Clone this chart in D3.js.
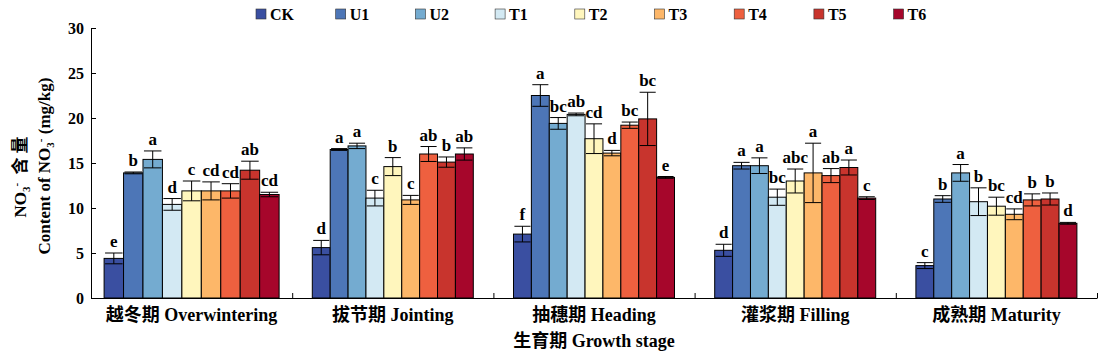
<!DOCTYPE html>
<html>
<head>
<meta charset="utf-8">
<script src="https://cdnjs.cloudflare.com/ajax/libs/d3/7.8.5/d3.min.js"></script>
<style>
  body { margin: 0; background: #fff; }
  svg text { font-family: "Liberation Serif", "Noto Sans CJK SC", serif; font-weight: bold; fill: #000; }
  .axis path, .axis line { stroke: #000; stroke-width: 1; }
</style>
</head>
<body>
<svg id="chart" width="1102" height="358"></svg>
<script>
// growth stages and treatments
var stages = ["越冬期 Overwintering", "拔节期 Jointing", "抽穗期 Heading", "灌浆期 Filling", "成熟期 Maturity"];
var treatments = ["CK", "U1", "U2", "T1", "T2", "T3", "T4", "T5", "T6"];
var yTicks = [0, 5, 10, 15, 20, 25, 30];

// NO3- content (mg/kg), one array per treatment, in stage order
var CK = [4.4, 5.6, 7.1, 5.3, 3.6];
var U1 = [13.9, 16.5, 22.5, 14.7, 11.0];
var U2 = [15.4, 16.9, 19.4, 14.7, 13.9];
var T1 = [10.4, 11.1, 20.4, 11.2, 10.7];
var T2 = [11.9, 14.6, 17.7, 13.0, 10.2];
var T3 = [11.9, 10.9, 16.1, 13.9, 9.3];
var T4 = [11.9, 16.0, 19.2, 13.6, 10.9];
var T5 = [14.2, 15.1, 19.9, 14.5, 11.0];
var T6 = [11.5, 16.0, 13.4, 11.1, 8.3];

// standard errors
var CK_err = [0.6, 0.8, 0.87, 0.67, 0.33];
var U1_err = [0.1, 0.1, 1.2, 0.37, 0.37];
var U2_err = [0.94, 0.3, 0.65, 0.87, 0.93];
var T1_err = [0.65, 0.87, 0.15, 0.9, 1.54];
var T2_err = [1.1, 1.0, 1.65, 1.33, 1.0];
var T3_err = [1.0, 0.5, 0.3, 3.3, 0.6];
var T4_err = [0.8, 0.83, 0.35, 0.78, 0.67];
var T5_err = [1.0, 0.57, 2.96, 0.83, 0.67];
var T6_err = [0.25, 0.68, 0.1, 0.15, 0.1];

// significance letters
var CK_sig = ["e", "d", "f", "d", "c"];
var U1_sig = ["b", "a", "a", "a", "b"];
var U2_sig = ["a", "a", "bc", "a", "a"];
var T1_sig = ["d", "c", "ab", "bc", "b"];
var T2_sig = ["c", "b", "cd", "abc", "bc"];
var T3_sig = ["cd", "c", "d", "a", "cd"];
var T4_sig = ["cd", "ab", "bc", "ab", "b"];
var T5_sig = ["ab", "b", "bc", "a", "b"];
var T6_sig = ["cd", "ab", "e", "c", "d"];

var palette = ["#3a4fa1", "#4d76b7", "#74abd0", "#d3e9f3", "#fff6bd", "#fdb769", "#ee603f", "#c8342d", "#a6062b"];

var means = [CK, U1, U2, T1, T2, T3, T4, T5, T6];
var errs = [CK_err, U1_err, U2_err, T1_err, T2_err, T3_err, T4_err, T5_err, T6_err];
var sigs = [CK_sig, U1_sig, U2_sig, T1_sig, T2_sig, T3_sig, T4_sig, T5_sig, T6_sig];

plot_bars();

function plot_bars() {
  var svg = d3.select('#chart');

  var _margin = {top: 28, right: 5, bottom: 60, left: 91};
  var _width  = 1097 - _margin.left;
  var _height = 298 - _margin.top;
  var canvas = svg.append("g").attr("transform", `translate(${_margin.left}, ${_margin.top})`);

  var _data = [];
  stages.forEach(function(s, i) {
    treatments.forEach(function(t, j) {
      _data.push({stage: s, si: i, treat: t, ti: j, mean: means[j][i], err: errs[j][i], sig: sigs[j][i]});
    });
  });

  var x0 = d3.scaleBand().domain(stages).range([0, _width]).padding(0);
  // the first group is drawn a little wider than the others in the original
  var groupW = function(i) { return i === 0 ? 175 : 161; };
  var x1 = function(i) {
    var w = groupW(i);
    return d3.scaleBand().domain(treatments).range([(x0.bandwidth() - w) / 2, (x0.bandwidth() + w) / 2]);
  };

  var y = d3.scaleLinear().domain([0, 30]).range([_height, 0]);

  // y axis, inward ticks
  var ay = d3.axisLeft(y).tickValues(yTicks).tickSize(-5).tickSizeOuter(0).tickPadding(7);
  var gy = canvas.append("g").attr("class", "axis axis--y").call(ay);
  gy.attr("font-family", null);
  gy.selectAll("text").style("font-size", "16px").attr("dy", "0.35em");

  // x axis line with upward ticks at group boundaries
  var xb = d3.scaleLinear().domain([0, stages.length]).range([0, _width]);
  var axb = d3.axisBottom(xb).tickValues(d3.range(1, stages.length + 1)).tickSize(-5).tickSizeOuter(0).tickFormat("");
  canvas.append("g")
    .attr("class", "axis axis--x")
    .attr("transform", `translate(0, ${_height})`)
    .call(axb);

  // category labels
  var ax = d3.axisBottom(x0).tickSize(0).tickPadding(10);
  var gx = canvas.append("g")
    .attr("class", "axis axis--cat")
    .attr("transform", `translate(0, ${_height})`)
    .call(ax);
  gx.attr("font-family", null);
  gx.select(".domain").remove();
  gx.selectAll("text").style("font-size", "18px");

  // bars
  var groups = canvas.selectAll("g.stage")
    .data(stages)
    .enter().append("g")
      .attr("class", "stage")
      .attr("transform", (d) => `translate(${x0(d)}, 0)`);

  groups.each(function(s, i) {
    var g = d3.select(this);
    var sx = x1(i);
    var bw = sx.bandwidth();
    var rows = _data.filter((d) => d.si === i);

    g.selectAll("rect")
      .data(rows)
      .enter().append("rect")
        .attr("x", (d) => sx(d.treat))
        .attr("y", (d) => y(d.mean))
        .attr("width", bw)
        .attr("height", (d) => _height - y(d.mean))
        .attr("fill", (d) => palette[d.ti])
        .attr("stroke", "#000")
        .attr("stroke-width", 1);

    var eb = g.selectAll("g.err")
      .data(rows)
      .enter().append("g")
        .attr("class", "err")
        .attr("transform", (d) => `translate(${sx(d.treat) + bw / 2}, 0)`);

    eb.append("line")
      .attr("x1", 0).attr("x2", 0)
      .attr("y1", (d) => y(d.mean - d.err))
      .attr("y2", (d) => y(d.mean + d.err))
      .attr("stroke", "#000");
    eb.append("line")
      .attr("x1", -bw * 0.45).attr("x2", bw * 0.45)
      .attr("y1", (d) => y(d.mean + d.err)).attr("y2", (d) => y(d.mean + d.err))
      .attr("stroke", "#000");
    eb.append("line")
      .attr("x1", -bw * 0.45).attr("x2", bw * 0.45)
      .attr("y1", (d) => y(d.mean - d.err)).attr("y2", (d) => y(d.mean - d.err))
      .attr("stroke", "#000");

    eb.append("text")
      .attr("text-anchor", "middle")
      .attr("y", (d) => y(d.mean + d.err) - 6)
      .style("font-size", "17px")
      .text((d) => d.sig);
  });

  // x title
  svg.append("text")
    .attr("text-anchor", "middle")
    .attr("x", _margin.left + _width / 2)
    .attr("y", 347)
    .style("font-size", "18px")
    .text("生育期 Growth stage");

  // y title, two lines
  var yl1 = svg.append("text")
    .attr("text-anchor", "middle")
    .attr("transform", "translate(26, 175) rotate(-90)")
    .style("font-size", "17px");
  yl1.append("tspan").text("NO");
  yl1.append("tspan").attr("dy", 4).style("font-size", "11px").text("3");
  yl1.append("tspan").attr("dy", -10).style("font-size", "11px").text("-");
  yl1.append("tspan").attr("dy", 6).attr("letter-spacing", "4px").text(" 含量");

  var yl2 = svg.append("text")
    .attr("text-anchor", "middle")
    .attr("transform", "translate(50, 166) rotate(-90)")
    .style("font-size", "17px");
  yl2.append("tspan").text("Content of NO");
  yl2.append("tspan").attr("dy", 4).style("font-size", "11px").text("3");
  yl2.append("tspan").attr("dy", -10).style("font-size", "11px").text("-");
  yl2.append("tspan").attr("dy", 6).text(" (mg/kg)");

  // legend
  var legend = svg.append("g").attr("class", "legend");
  var items = legend.selectAll("g")
    .data(treatments)
    .enter().append("g")
      .attr("transform", (d, i) => `translate(${256 + i * 79.7}, 9)`);
  items.append("rect")
    .attr("width", 10).attr("height", 10)
    .attr("fill", (d, i) => palette[i])
    .attr("stroke", "#333").attr("stroke-width", 0.6);
  items.append("text")
    .attr("x", 14).attr("y", 11)
    .style("font-size", "16px")
    .text((d) => d);
}
</script>
</body>
</html>
